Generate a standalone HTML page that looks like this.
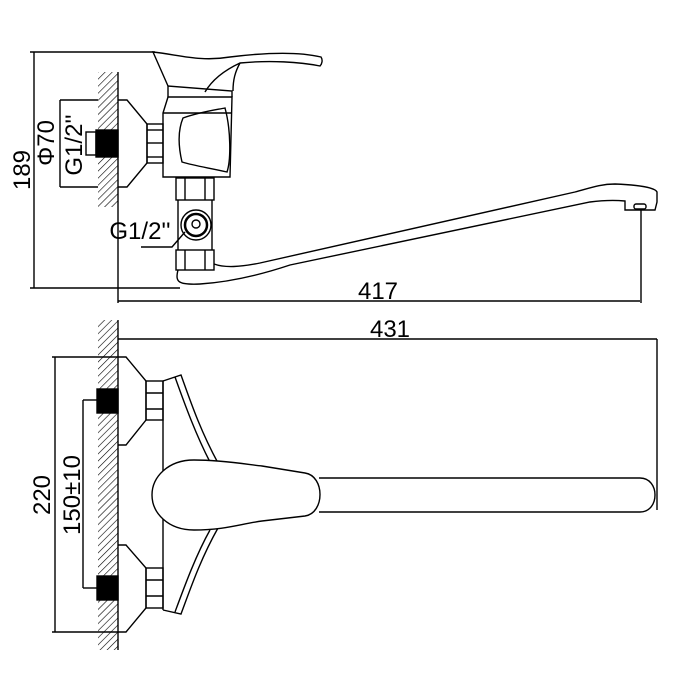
<!DOCTYPE html>
<html><head><style>body{margin:0;background:#fff}svg{display:block}text{font-family:"Liberation Sans",sans-serif;fill:#000}</style></head><body>
<svg width="700" height="700" viewBox="0 0 700 700" xmlns="http://www.w3.org/2000/svg">
<defs>
<pattern id="h" width="5" height="5" patternUnits="userSpaceOnUse" patternTransform="rotate(45)">
<line x1="0" y1="0" x2="0" y2="5" stroke="#000" stroke-width="1.2"/></pattern>
</defs>
<g fill="none" stroke="#000" stroke-width="1.4">
<rect x="98" y="72" width="20" height="135" fill="url(#h)" stroke="none"/>
<line x1="118" y1="72" x2="118" y2="303"/>
<line x1="34" y1="52" x2="34" y2="288"/>
<line x1="30" y1="52" x2="155" y2="52"/>
<line x1="30" y1="288" x2="180" y2="288"/>
<line x1="60" y1="100" x2="60" y2="187"/>
<line x1="60" y1="100" x2="98" y2="100"/>
<line x1="60" y1="187" x2="98" y2="187"/>
<rect x="86" y="132" width="10" height="23" fill="#fff"/>
<rect x="96" y="130" width="22" height="27" fill="#000"/>
<path d="M118,100 L127,100 L147,124 L147,163 L127,187 L118,187"/>
<rect x="147" y="124" width="16" height="39"/>
<line x1="147" y1="143" x2="163" y2="143"/>
<line x1="147" y1="130" x2="163" y2="130"/>
<line x1="147" y1="157" x2="163" y2="157"/>
<path d="M163,113 L163,177 L230,177 L232,97 L168,97 Z"/>
<line x1="163" y1="113" x2="232" y2="113"/>
<path d="M183,118 C200,112 215,110 225,108 C231,130 231,160 227,172 C210,168 195,166 182,162 C178,145 178,130 183,118 Z"/>
<path d="M168,97 L168,86 L232,91 L232,97"/>
<path d="M168,86 L153,52 C180,55 200,62 230,57 C270,52 300,52 321,57 C323,60 322,64 320,66 C300,62 270,60 240,63 C225,70 212,80 205,92"/>
<path d="M233,91 C233,80 235,72 240,63"/>
<rect x="176" y="178" width="38" height="22"/>
<line x1="185" y1="178" x2="185" y2="200"/><line x1="205" y1="178" x2="205" y2="200"/>
<line x1="178" y1="200" x2="178" y2="250"/><line x1="212" y1="200" x2="212" y2="250"/>
<circle cx="196" cy="225" r="15"/>
<circle cx="196" cy="225" r="11" stroke-width="2.5"/>
<circle cx="196" cy="224" r="4"/>
<path d="M141,247 L172,247 L185,232"/>
<rect x="176" y="250" width="38" height="20"/>
<line x1="185" y1="250" x2="185" y2="270"/><line x1="205" y1="250" x2="205" y2="270"/>
<path d="M178,270 C175,282 178,285 200,284 C230,282 260,275 290,265 L590,202 C605,200 615,200 625,201 L625,210 L655,210 L657,202 L657,192 C655,188 640,185 615,184 C600,184 590,188 575,192 L260,263 C240,267 225,268 214,264"/>
<rect x="634" y="204" width="12" height="5" rx="2"/>
<line x1="641" y1="209" x2="641" y2="303"/>
<line x1="118" y1="301" x2="640" y2="301"/>
<line x1="118" y1="339" x2="657" y2="339"/>
<line x1="657" y1="339" x2="657" y2="510"/>
<rect x="98" y="320" width="20" height="330" fill="url(#h)" stroke="none"/>
<line x1="118" y1="320" x2="118" y2="650"/>
<line x1="55" y1="357" x2="55" y2="632"/>
<line x1="52" y1="357" x2="118" y2="357"/>
<line x1="52" y1="632" x2="118" y2="632"/>
<line x1="83" y1="400" x2="83" y2="588"/>
<line x1="83" y1="400" x2="98" y2="400"/>
<line x1="83" y1="588" x2="98" y2="588"/>
<rect x="97" y="389" width="21" height="24" fill="#000"/>
<rect x="97" y="576" width="21" height="24" fill="#000"/>
<path d="M118,357 L126,357 L146,381 L146,420 L126,445 L118,445"/>
<rect x="146" y="381" width="17" height="39"/>
<line x1="146" y1="393" x2="163" y2="393"/><line x1="146" y1="409" x2="163" y2="409"/>
<path d="M118,545 L126,545 L146,568 L146,608 L126,632 L118,632"/>
<rect x="146" y="568" width="17" height="40"/>
<line x1="146" y1="580" x2="163" y2="580"/><line x1="146" y1="596" x2="163" y2="596"/>
<line x1="163" y1="381" x2="163" y2="610"/>
<path d="M163,381 L181,375 C190,400 200,430 218,463"/>
<path d="M175,377 C185,405 196,435 210,462"/>
<path d="M163,610 L181,614 C190,590 200,560 218,528"/>
<path d="M175,612 C185,585 196,555 210,530"/>
<path d="M194,460 C225,460 250,465 262,466 L305,473 C325,476 325,513 305,516 L262,521 C240,524 225,530 194,530 C168,530 152,513 152,495 C152,477 168,460 194,460 Z" fill="#fff"/>
<path d="M319,478 L640,478 C660,478 660,512 640,512 L319,512"/>
</g>
<g font-size="24">
<text transform="translate(30,170) rotate(-90)" text-anchor="middle">189</text>
<text transform="translate(54,143) rotate(-90)" text-anchor="middle">Φ70</text>
<text transform="translate(82,145) rotate(-90)" text-anchor="middle">G1/2''</text>
<text x="140" y="239" text-anchor="middle">G1/2''</text>
<text x="378" y="299" text-anchor="middle">417</text>
<text x="390" y="337" text-anchor="middle">431</text>
<text transform="translate(50,495) rotate(-90)" text-anchor="middle">220</text>
<text transform="translate(80,495) rotate(-90)" text-anchor="middle">150±10</text>
</g>
</svg>
</body></html>
